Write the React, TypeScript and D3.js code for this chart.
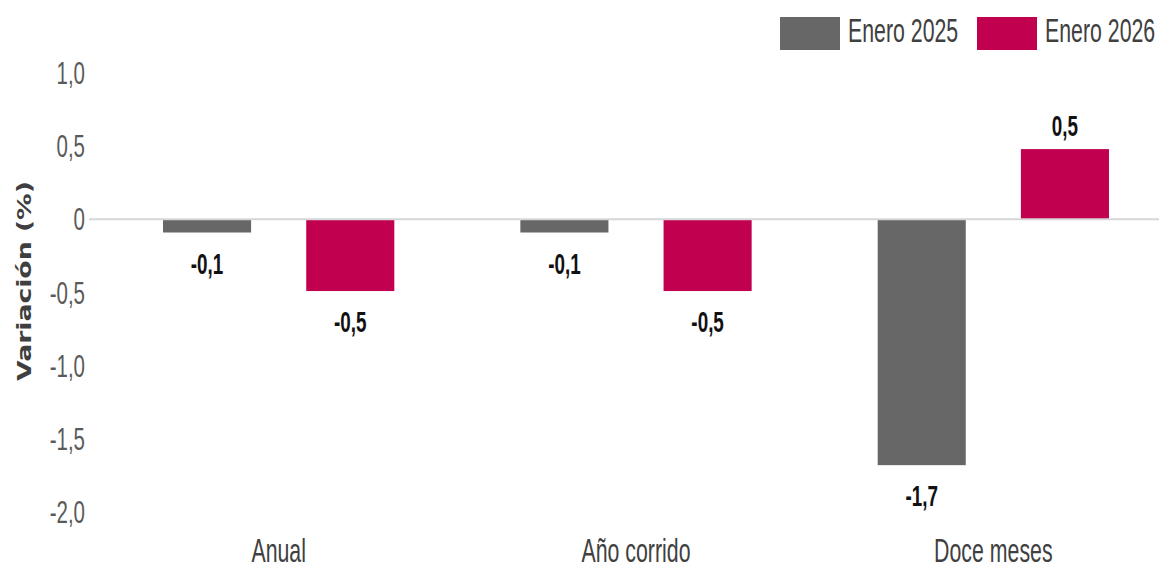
import * as d3 from "d3";

const categories = ["Anual", "Año corrido", "Doce meses"];
const seriesNames = ["Enero 2025", "Enero 2026"];
const values2025 = [-0.09, -0.09, -1.68];
const values2026 = [-0.49, -0.49, 0.48];
const yTicks = [1, 0.5, 0, -0.5, -1, -1.5, -2];

const colors = ["#676767", "#C10050"];
const W = 1159;
const H = 569;
const sans = "'Liberation Sans', Arial, sans-serif";
// the original text is narrow and looks vertically stretched
const SX = 0.82;
const SY = 1.25;
const stretch = `scale(${SX},${SY})`;

const fmt = (v: number) => (v === 0 ? "0" : d3.format(".1f")(v).replace("−", "-").replace(".", ","));

export default function App() {
  const y = d3.scaleLinear().domain([-2, 1]).range([512, 73]);
  const x0 = d3.scaleBand<string>().domain(categories).range([100, 1172]).padding(0);
  const x1 = d3
    .scaleBand<string>()
    .domain(seriesNames)
    .range([0, x0.bandwidth()])
    .paddingInner(0.385)
    .paddingOuter(0.44);

  const rows = categories.flatMap((c, i) =>
    [values2025[i], values2026[i]].map((v, j) => ({ cat: c, s: seriesNames[j], v, color: colors[j] }))
  );

  return (
    <svg width={W} height={H} style={{ position: "absolute", left: 0, top: 0, background: "#fff" }}>
      {/* y tick labels */}
      {yTicks.map((t) => (
        <text
          key={t}
          transform={`translate(85,${y(t) + 11}) ${stretch}`}
          textAnchor="end"
          fontFamily={sans}
          fontSize={25}
          fill="#5a5a5a"
        >
          {fmt(t)}
        </text>
      ))}

      {/* axis title */}
      <text
        transform={`translate(31,281) rotate(-90)`}
        textAnchor="middle"
        fontFamily="'DejaVu Sans', Verdana, sans-serif"
        fontWeight="bold"
        fontSize={19}
        textLength={200}
        lengthAdjust="spacingAndGlyphs"
        fill="#3f3f3f"
      >
        Variación (%)
      </text>

      {/* bars */}
      {rows.map((r) => {
        const bx = x0(r.cat)! + x1(r.s)!;
        const top = y(Math.max(0, r.v));
        const bottom = y(Math.min(0, r.v));
        return <rect key={r.cat + r.s} x={bx} y={top} width={x1.bandwidth()} height={bottom - top} fill={r.color} />;
      })}

      {/* zero line */}
      <line x1={89} x2={W} y1={y(0)} y2={y(0)} stroke="#d6d6d6" strokeWidth={2} />

      {/* value labels */}
      {rows.map((r) => {
        const cx = x0(r.cat)! + x1(r.s)! + x1.bandwidth() / 2;
        const ly = r.v < 0 ? y(r.v) + 41 : y(r.v) - 13;
        return (
          <text
            key={"l" + r.cat + r.s}
            transform={`translate(${cx},${ly}) ${stretch}`}
            textAnchor="middle"
            fontFamily={sans}
            fontWeight="bold"
            fontSize={23}
            fill="#111"
          >
            {fmt(r.v)}
          </text>
        );
      })}

      {/* category labels */}
      {categories.map((c) => (
        <text
          key={c}
          transform={`translate(${x0(c)! + x0.bandwidth() / 2},562) ${stretch}`}
          textAnchor="middle"
          fontFamily={sans}
          fontSize={26}
          fill="#404040"
        >
          {c}
        </text>
      ))}

      {/* legend */}
      {seriesNames.map((s, i) => {
        const lx = 780 + i * 197;
        return (
          <g key={s}>
            <rect x={lx} y={17} width={60} height={33} fill={colors[i]} />
            <text
              transform={`translate(${lx + 68},42) ${stretch}`}
              fontFamily={sans}
              fontSize={26}
              fill="#404040"
            >
              {s}
            </text>
          </g>
        );
      })}
    </svg>
  );
}
